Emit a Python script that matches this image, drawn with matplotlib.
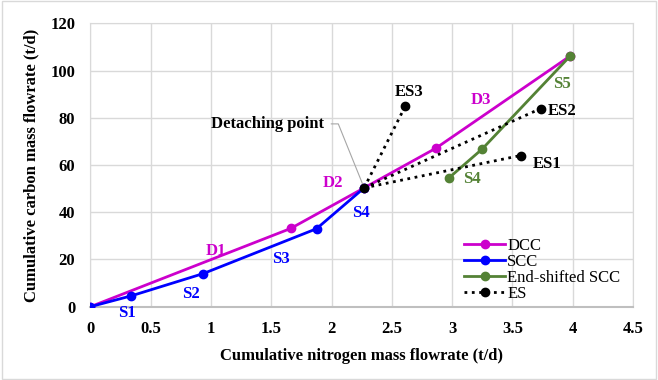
import matplotlib.pyplot as plt
import numpy as np

plt.rcParams['font.family'] = ['Liberation Serif', 'DejaVu Serif']

# data
dcc_x = [0, 1.66, 2.27, 2.865, 3.98]
dcc_y = [0, 33.1, 50.3, 67.1, 106.2]
scc_x = [0, 0.34, 0.935, 1.875, 2.27]
scc_y = [0, 4.6, 14.0, 33.0, 50.3]
shift_x = [2.975, 3.25, 3.98]
shift_y = [54.6, 66.8, 106.2]
det_x, det_y = 2.27, 50.3
es_names = ['ES1', 'ES2', 'ES3']
es_x = [3.567, 3.735, 2.61]
es_y = [64.0, 83.9, 84.8]

pink = '#CC00CC'
blue = '#0000FF'
green = '#548235'

fig = plt.figure(figsize=(6.58, 3.8), dpi=100)
ax = fig.add_axes([0.1375, 0.193, 0.8245, 0.7457])

ax.plot(dcc_x, dcc_y, '-o', color=pink, lw=2, ms=6, label='DCC', zorder=3)
ax.plot(scc_x, scc_y, '-o', color=blue, lw=2, ms=6, label='SCC', zorder=3)
ax.plot(shift_x, shift_y, '-o', color=green, lw=2, ms=6, label='End-shifted SCC', zorder=3)

ex, ey = [], []
for x, y in zip(es_x, es_y):
    ex += [det_x, x, np.nan]
    ey += [det_y, y, np.nan]
ax.plot(ex, ey, ':', color='black', lw=2, zorder=4)
ax.plot(es_x + [det_x], es_y + [det_y], 'o', color='black', ms=6, zorder=5)
ax.plot([], [], ':o', color='black', lw=2, ms=6, label='ES')

bold = dict(fontweight='bold', fontsize=12, ha='center', va='center')
for t, x, y in [('D1', 1.04, 23.7), ('D2', 2.01, 52.3), ('D3', 3.24, 87.6)]:
    ax.text(x, y, t, color=pink, **bold)
for t, x, y in [('S1', 0.30, -2.8), ('S2', 0.83, 5.4), ('S3', 1.58, 20.1), ('S4', 2.24, 39.5)]:
    ax.text(x, y, t, color=blue, **bold)
for t, x, y in [('S4', 3.16, 54.0), ('S5', 3.91, 94.4)]:
    ax.text(x, y, t, color=green, **bold)
for t, x, y in zip(es_names, [3.79, 3.91, 2.64], [60.3, 83.0, 90.7]):
    ax.text(x, y, t, color='black', **bold)

ax.annotate('Detaching point', xy=(det_x, det_y), xytext=(1.47, 77.4),
            fontweight='bold', fontsize=12, ha='center', va='center',
            arrowprops=dict(arrowstyle='-', color='#A6A6A6', lw=0.8,
                            connectionstyle='angle,angleA=0,angleB=112,rad=0',
                            shrinkA=3, shrinkB=0))

ax.set_xlim(0, 4.5)
ax.set_ylim(0, 120)
ax.set_xticks(np.arange(0, 4.51, 0.5))
ax.set_xticklabels(['0', '0.5', '1', '1.5', '2', '2.5', '3', '3.5', '4', '4.5'])
ax.set_yticks(range(0, 121, 20))
ax.grid(True, color='#D9D9D9', lw=1)
ax.set_axisbelow(True)
for s in ax.spines.values():
    s.set_color('#D9D9D9')
ax.spines['bottom'].set_color('#BFBFBF')
ax.spines['bottom'].set_linewidth(1.5)
ax.tick_params(length=0, labelsize=12)
ax.tick_params(axis='x', pad=10)
ax.tick_params(axis='y', pad=11)
for lab in ax.get_xticklabels() + ax.get_yticklabels():
    lab.set_fontweight('bold')

ax.set_xlabel('Cumulative nitrogen mass flowrate (t/d)', fontsize=12, fontweight='bold', labelpad=8)
ax.set_ylabel('Cumulative carbon mass flowrate (t/d)', fontsize=12, fontweight='bold', labelpad=8)

ax.legend(loc='lower right', bbox_to_anchor=(0.995, -0.02), frameon=False, fontsize=12,
          handlelength=2.5, handletextpad=0.1, labelspacing=0.0, borderaxespad=0.2)

fig.patches.append(plt.Rectangle((0.003, 0.003), 0.994, 0.994, transform=fig.transFigure,
                                 fill=False, edgecolor='#D9D9D9', lw=1))

fig.savefig('out.png', dpi=100)
